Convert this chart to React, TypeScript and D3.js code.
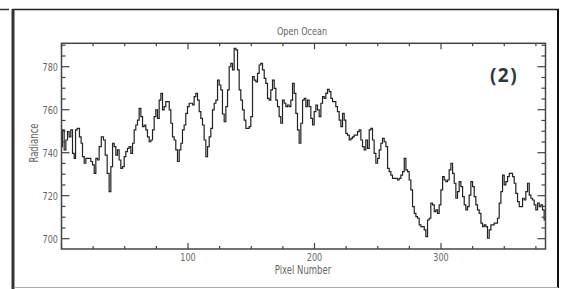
import React from "react";
import * as d3 from "d3";

const pixelNumber: number[] = [
  0, 1.4, 2.8, 4.1, 5.4, 6.7, 8.0, 9.4, 10.7, 11.5, 13.3, 15.1, 15.9, 17.3, 18.6, 19.9, 22.5, 23.8, 25.2, 26.5,
  27.8, 29.1, 30.4, 32.5, 33.9, 35.2, 37.0, 38.3, 39.7, 41.0, 42.3, 43.6, 44.9, 46.2, 47.6, 48.9, 50.2, 51.5,
  52.8, 54.1, 55.5, 56.8, 58.1, 59.4, 60.7, 62.1, 63.4, 64.7, 66.0, 67.3, 68.6, 70.0, 71.3, 72.6, 73.9, 75.2,
  76.5, 77.9, 79.2, 80.5, 81.8, 83.1, 84.5, 85.8, 87.1, 88.4, 89.7, 91.0, 92.4, 93.7, 95.0, 96.3, 97.6, 98.9,
  100.3, 101.6, 102.9, 104.2, 105.5, 106.9, 108.2, 109.5, 110.8, 112.1, 113.4, 114.8, 116.1, 117.4, 118.7,
  120.0, 121.4, 122.7, 124.0, 125.3, 126.6,
  127.9, 129.3, 130.6, 131.9, 133.2, 134.5, 135.8, 137.2, 138.5, 139.8, 141.1, 142.4, 143.7, 145.1, 146.4,
  147.7, 149.0, 150.3, 151.7, 153.0, 154.3, 155.6, 156.9, 158.2, 159.6, 160.9, 162.2, 163.5, 164.8, 166.1,
  167.5, 168.8, 170.1, 171.4, 172.7, 174.0, 175.4, 176.7, 178.0, 179.3, 180.6, 182.0, 183.3, 184.6, 185.9,
  187.2, 188.5, 189.9, 191.2, 192.5, 193.8, 195.1, 196.4, 197.8, 199.1, 200.4, 201.7, 203.0, 204.4, 205.7,
  207.0, 208.3, 209.6, 210.9, 212.3, 213.6, 214.9, 216.2, 217.5, 218.8, 220.2, 221.5, 222.8, 224.1, 225.4,
  226.8, 228.1, 229.4, 230.7, 232.0, 233.3, 234.7, 236.0, 237.3, 238.6, 239.9, 241.2, 242.6, 243.9, 245.2,
  246.5, 247.8, 249.2, 250.5, 251.8, 253.1, 254.4,
  255.8, 257.1, 258.4, 259.7, 261.0, 262.3, 263.7, 265.0, 266.3, 267.6, 268.9, 270.3, 271.6, 272.9, 274.2,
  275.5, 276.8, 278.2, 279.5, 280.8, 282.1, 283.4, 284.7, 286.1, 287.4, 288.7, 290.0, 291.3, 292.6, 294.0,
  295.3, 296.6, 297.9, 299.2, 300.6, 301.9, 303.2, 304.5, 305.8, 307.1, 308.5, 309.8, 311.1, 312.4, 313.7,
  315.0, 316.4, 317.7, 319.0, 320.3, 321.6, 322.9, 324.3, 325.6, 326.9, 328.2, 329.5, 330.9, 332.2, 333.5,
  334.8, 336.1, 337.4, 338.8, 340.1, 341.4, 342.7, 344.0, 345.3, 346.7, 348.0, 349.3, 350.6, 351.9, 353.3,
  354.6, 355.9, 357.2, 358.5, 359.8, 361.2, 362.5, 363.8, 365.1, 366.4, 367.7, 369.1, 370.4, 371.7, 373.0,
  374.3, 375.6, 377.0, 378.3, 379.6, 380.9, 382.2,
];

const radiance: number[] = [
  742.8, 750.6, 741.3, 745.9, 749.8, 747.4, 750.6, 739.7, 737.4, 750.6, 751.3, 747.4, 744.4, 738.2, 735.1,
  737.4, 737.4, 735.9, 734.3, 730.4, 737.4, 736.6, 742.8, 747.4, 745.9, 738.9, 730.4, 721.9, 733.5, 744.4,
  742.8, 738.9, 741.3, 736.6, 732.7, 733.5, 738.2, 740.5, 742.0, 742.8, 739.7, 744.4, 750.6, 752.9, 755.2,
  760.6, 756.8, 752.1, 752.9, 750.6, 747.4, 745.1, 745.9, 750.6, 756.8, 759.9, 756.0, 764.5, 767.6, 759.9,
  761.4, 763.8, 763.8, 759.9, 753.7, 747.4, 745.9, 741.3, 735.9, 741.3, 744.4, 750.6, 752.9, 758.3, 761.4,
  763.0, 763.0, 762.2, 766.1, 767.6, 764.5, 759.1, 756.0, 752.9, 745.9, 738.2, 742.8, 747.4, 751.3, 759.9,
  763.0, 764.5, 773.8, 771.5, 769.2,
  758.0, 754.4, 761.4, 769.2, 780.0, 781.6, 778.5, 788.5, 787.8, 778.5, 769.2, 764.5, 759.9, 755.2, 751.3,
  751.3, 752.1, 756.8, 775.4, 773.8, 773.0, 776.9, 780.8, 781.6, 778.5, 774.6, 772.3, 765.3, 764.5, 769.2,
  773.8, 769.9, 764.5, 761.4, 756.8, 753.7, 764.5, 763.0, 761.4, 762.2, 761.4, 764.5, 772.3, 767.6, 758.3,
  750.6, 744.4, 753.7, 764.5, 765.3, 761.4, 764.5, 761.4, 756.0, 752.9, 759.1, 762.2, 759.9, 756.8, 763.0,
  766.1, 765.3, 767.6, 769.5, 768.4, 765.3, 763.8, 763.8, 761.4, 759.1, 755.2, 752.1, 758.3, 755.2, 749.0,
  748.2, 745.9, 746.7, 747.4, 748.2, 748.2, 749.8, 750.6, 745.9, 742.8, 741.3, 745.9, 742.0, 750.6, 751.3,
  745.9, 739.7, 735.1, 737.4, 741.3, 744.4, 746.7,
  745.1, 742.8, 732.7, 731.2, 729.6, 728.1, 728.1, 728.1, 727.3, 728.1, 729.6, 731.2, 737.4, 732.0, 731.2,
  727.3, 722.7, 714.9, 711.8, 710.3, 709.5, 706.4, 705.6, 705.6, 704.1, 701.0, 708.7, 709.5, 716.5, 715.7,
  712.6, 713.4, 711.8, 715.7, 722.7, 728.9, 727.3, 726.5, 727.3, 732.0, 735.1, 730.4, 725.8, 718.8, 721.9,
  726.5, 724.2, 719.6, 715.7, 713.4, 714.9, 720.3, 726.5, 724.2, 719.6, 715.7, 713.4, 711.8, 707.2, 705.6,
  706.4, 705.6, 700.2, 704.1, 706.4, 706.4, 707.2, 707.2, 709.5, 716.5, 721.9, 729.6, 725.0, 726.5, 728.9,
  730.4, 730.4, 728.9, 725.8, 721.1, 717.2, 714.9, 714.9, 718.8, 718.0, 721.9, 725.8, 720.3, 718.8, 718.0,
  715.7, 713.4, 716.5, 714.9, 715.7, 713.4, 708.7,
];

const xTickLabels: number[] = [100, 200, 300];
const yTickLabels: number[] = [700, 720, 740, 760, 780];
const titleText = "Open Ocean";
const xAxisLabel = "Pixel Number";
const yAxisLabel = "Radiance";
const panelTag = "(2)";

const W = 563;
const H = 289;
const L = 61.5, R = 545.5, T = 43.3, B = 249;
const FONT = "'DejaVu Sans Condensed', 'Liberation Sans Narrow', sans-serif";

function NarrowText(props: { x: number; y: number; anchor: string; size: number; children: any; fill: string }) {
  const sx = 0.82;
  return (
    <text
      transform={`translate(${props.x},${props.y}) scale(${sx},1)`}
      textAnchor={props.anchor}
      fontFamily={FONT}
      fontSize={props.size}
      fill={props.fill}
    >
      {props.children}
    </text>
  );
}

export default function App() {
  const x = d3.scaleLinear().domain([0, 382.6]).range([L, R]);
  const y = d3.scaleLinear().domain([695.2, 790.9]).range([B, T]);
  const pts: [number, number][] = pixelNumber.map((n, i) => [n, radiance[i]]);
  const line = d3
    .line<[number, number]>()
    .x((d) => x(d[0]))
    .y((d) => y(d[1]))
    .curve(d3.curveStep);

  const xTicks = d3.range(0, 383, 25);
  const yTicks = d3.range(700, 791, 5);
  const axisColor = "#444";
  const textColor = "#666";

  return (
    <svg
      width={W}
      height={H}
      style={{ position: "absolute", left: 0, top: 0, background: "#fff" }}
    >
      {/* outer frame */}
      <line x1={0} y1={9.5} x2={9} y2={9.5} stroke="#333" strokeWidth={1.5} />
      <line x1={12} y1={9.5} x2={559} y2={9.5} stroke="#222" strokeWidth={1.6} />
      <line x1={13} y1={9} x2={13} y2={289} stroke="#333" strokeWidth={3} />
      <line x1={558} y1={9} x2={558} y2={288} stroke="#111" strokeWidth={2} />
      <line x1={14} y1={287.5} x2={558} y2={287.5} stroke="#aaa" strokeWidth={1} />

      <NarrowText x={302} y={35} anchor="middle" size={11} fill={textColor}>
        {titleText}
      </NarrowText>

      <path d={line(pts) || ""} fill="none" stroke="#222" strokeWidth={1.2} />

      <rect x={L} y={T} width={R - L} height={B - T} fill="none" stroke={axisColor} strokeWidth={1.5} />

      {xTicks.map((t) => {
        const major = t % 100 === 0;
        const len = major ? 6 : 3;
        return (
          <g key={"xt" + t}>
            <line x1={x(t)} x2={x(t)} y1={B} y2={B - len} stroke={axisColor} strokeWidth={1.2} />
            <line x1={x(t)} x2={x(t)} y1={T} y2={T + len} stroke={axisColor} strokeWidth={1.2} />
          </g>
        );
      })}

      {yTicks.map((t) => {
        const major = t % 20 === 0;
        const len = major ? 8 : 4;
        return (
          <g key={"yt" + t}>
            <line x1={L} x2={L + len} y1={y(t)} y2={y(t)} stroke={axisColor} strokeWidth={1.2} />
            <line x1={R} x2={R - len} y1={y(t)} y2={y(t)} stroke={axisColor} strokeWidth={1.2} />
          </g>
        );
      })}

      {xTickLabels.map((t) => (
        <NarrowText key={"xl" + t} x={x(t)} y={261} anchor="middle" size={11} fill={textColor}>
          {t}
        </NarrowText>
      ))}
      {yTickLabels.map((t) => (
        <NarrowText key={"yl" + t} x={58} y={y(t) + 4} anchor="end" size={11} fill={textColor}>
          {t}
        </NarrowText>
      ))}

      <NarrowText x={303} y={274} anchor="middle" size={11.5} fill={textColor}>
        {xAxisLabel}
      </NarrowText>
      <text
        transform={`translate(38, 143) rotate(-90) scale(0.82,1)`}
        textAnchor="middle"
        fontFamily={FONT}
        fontSize={11.5}
        fill={textColor}
      >
        {yAxisLabel}
      </text>

      <text
        x={504}
        y={82}
        textAnchor="middle"
        fontFamily="'Open Sans', 'Noto Sans', sans-serif"
        fontWeight="bold"
        fontSize={19}
        letterSpacing={1.5}
        fill="#2f3640"
      >
        {panelTag}
      </text>
    </svg>
  );
}
